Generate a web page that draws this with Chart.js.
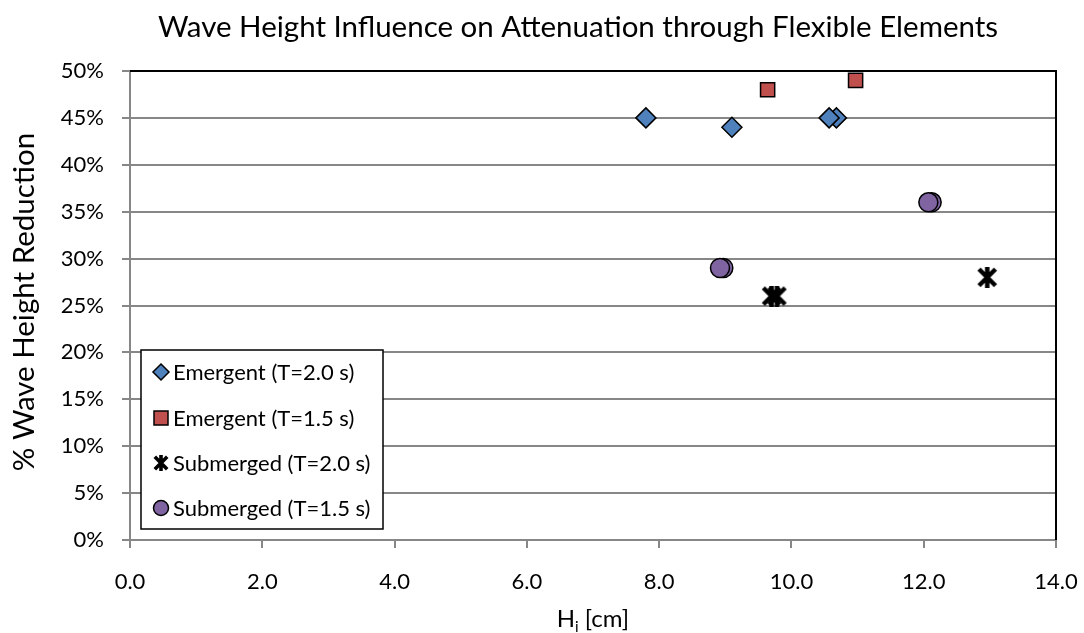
<!DOCTYPE html>
<html lang="en">
<head>
<meta charset="UTF-8">
<title>Wave Height Influence on Attenuation</title>
<script src="https://cdn.jsdelivr.net/npm/chart.js"></script>
<style>
  body { margin: 0; background: #fff; }
  #wrap { width: 1084px; height: 633px; }
</style>
</head>
<body>
<div id="wrap"><canvas id="attenuationChart" width="1084" height="633"></canvas></div>
<script>
// incident wave height (cm) and % wave height reduction per test group
const emergent20H = [7.8, 9.1, 10.68, 10.57];
const emergent20R = [45, 44, 45, 45];
const emergent15H = [9.64, 10.97];
const emergent15R = [48, 49];
const submerged20H = [9.7, 9.78, 12.96];
const submerged20R = [26, 26, 28];
const submerged15H = [8.97, 8.92, 12.12, 12.07];
const submerged15R = [29, 29, 36, 36];

const seriesNames = ['Emergent (T=2.0 s)', 'Emergent (T=1.5 s)', 'Submerged (T=2.0 s)', 'Submerged (T=1.5 s)'];
const xTicks = [0, 2, 4, 6, 8, 10, 12, 14];
const yTicks = [0, 5, 10, 15, 20, 25, 30, 35, 40, 45, 50];

const FONT = 'Lato';
const BLUE = '#4F81BD', RED = '#C0504D', PURPLE = '#8064A2', GRID = '#878787';

function toPoints(xs, ys) {
    return xs.map((x, i) => ({ x: x, y: ys[i] }));
}

// Excel-style star marker: an X with a vertical stroke through it
function makeStar(size, lw) {
    const c = document.createElement('canvas');
    c.width = c.height = size;
    const g = c.getContext('2d');
    g.strokeStyle = '#000';
    g.lineWidth = lw;
    const m = lw / 2;
    g.beginPath();
    g.moveTo(m, m); g.lineTo(size - m, size - m);
    g.moveTo(size - m, m); g.lineTo(m, size - m);
    g.moveTo(size / 2, 0); g.lineTo(size / 2, size);
    g.stroke();
    return c;
}

const starBig = makeStar(21, 4.5);
const starSmall = makeStar(16, 3.6);

function drawMarker(ctx, kind, x, y) {
    ctx.save();
    ctx.lineWidth = 1.5;
    ctx.strokeStyle = '#000';
    ctx.beginPath();
    if (kind === 0) {
        const r = 8;
        ctx.moveTo(x, y - r); ctx.lineTo(x + r, y); ctx.lineTo(x, y + r); ctx.lineTo(x - r, y); ctx.closePath();
        ctx.fillStyle = BLUE;
    } else if (kind === 1) {
        ctx.rect(x - 7, y - 7, 14, 14);
        ctx.fillStyle = RED;
    } else if (kind === 3) {
        ctx.arc(x, y, 7.5, 0, Math.PI * 2);
        ctx.fillStyle = PURPLE;
    } else {
        ctx.drawImage(starSmall, x - 8, y - 8);
        ctx.restore();
        return;
    }
    ctx.fill();
    ctx.stroke();
    ctx.restore();
}

const decorations = {
    id: 'decorations',
    beforeDatasetsDraw(chart) {
        const { ctx, chartArea: a } = chart;
        // plot area frame on top and right
        ctx.save();
        ctx.strokeStyle = '#000';
        ctx.lineWidth = 2;
        ctx.beginPath();
        ctx.moveTo(a.left, a.top);
        ctx.lineTo(a.right, a.top);
        ctx.lineTo(a.right, a.bottom);
        ctx.stroke();
        ctx.restore();
    },
    afterDraw(chart) {
        const { ctx, chartArea: a } = chart;
        ctx.save();
        ctx.fillStyle = '#000';

        // chart title
        ctx.font = '29.5px ' + FONT;
        ctx.textAlign = 'center';
        ctx.textBaseline = 'alphabetic';
        ctx.fillText('Wave Height Influence on Attenuation through Flexible Elements', 578, 37);

        // y axis title
        ctx.save();
        ctx.translate(24, 302);
        ctx.rotate(-Math.PI / 2);
        ctx.textBaseline = 'middle';
        ctx.fillText('% Wave Height Reduction', 0, 0);
        ctx.restore();

        // x axis title with subscript
        const mid = (a.left + a.right) / 2;
        ctx.textAlign = 'left';
        ctx.font = '24px ' + FONT;
        const wH = ctx.measureText('H').width;
        const wRest = ctx.measureText(' [cm]').width;
        ctx.font = '15px ' + FONT;
        const wi = ctx.measureText('i').width;
        const start = mid - (wH + wi + wRest) / 2;
        ctx.font = '24px ' + FONT;
        ctx.fillText('H', start, 627);
        ctx.fillText(' [cm]', start + wH + wi, 627);
        ctx.font = '15px ' + FONT;
        ctx.fillText('i', start + wH, 632);

        // legend box
        ctx.fillStyle = '#fff';
        ctx.fillRect(141, 350, 242, 179);
        ctx.strokeStyle = '#000';
        ctx.lineWidth = 1.5;
        ctx.strokeRect(141, 350, 242, 179);
        const rows = [372, 418, 463, 508];
        ctx.font = '22px ' + FONT;
        ctx.textBaseline = 'middle';
        seriesNames.forEach((name, i) => {
            drawMarker(ctx, i, 161, rows[i]);
            ctx.fillStyle = '#000';
            ctx.fillText(name, 173, rows[i] + 1);
        });
        ctx.restore();
    }
};

const chart = new Chart(document.getElementById('attenuationChart'), {
    type: 'scatter',
    data: {
        datasets: [
            {
                label: seriesNames[0],
                data: toPoints(emergent20H, emergent20R),
                pointStyle: 'rectRot',
                pointRadius: 10,
                backgroundColor: BLUE,
                borderColor: '#000',
                borderWidth: 1.5
            },
            {
                label: seriesNames[1],
                data: toPoints(emergent15H, emergent15R),
                pointStyle: 'rect',
                pointRadius: 10,
                backgroundColor: RED,
                borderColor: '#000',
                borderWidth: 1.5
            },
            {
                label: seriesNames[2],
                data: toPoints(submerged20H, submerged20R),
                pointStyle: starBig,
                pointRadius: 11,
                backgroundColor: '#000',
                borderColor: '#000'
            },
            {
                label: seriesNames[3],
                data: toPoints(submerged15H, submerged15R),
                pointStyle: 'circle',
                pointRadius: 9.5,
                backgroundColor: PURPLE,
                borderColor: '#000',
                borderWidth: 1.5
            }
        ]
    },
    options: {
        responsive: false,
        animation: false,
        events: [],
        layout: { padding: { top: 71, right: 28, left: 0, bottom: 0 } },
        plugins: {
            legend: { display: false },
            title: { display: false },
            tooltip: { enabled: false }
        },
        scales: {
            x: {
                type: 'linear',
                min: 0,
                max: 14,
                afterBuildTicks: scale => { scale.ticks = xTicks.map(v => ({ value: v })); },
                afterFit: scale => {
                    scale.height = 93;
                    scale.paddingLeft = 0;
                    scale.paddingRight = 0;
                },
                ticks: {
                    color: '#000',
                    font: { family: FONT, size: 22 },
                    padding: 21,
                    maxRotation: 0,
                    callback: v => v.toFixed(1)
                },
                grid: {
                    drawOnChartArea: false,
                    drawTicks: true,
                    tickLength: 8,
                    color: GRID,
                    lineWidth: 2
                },
                border: { color: GRID, width: 2 }
            },
            y: {
                min: 0,
                max: 50,
                afterBuildTicks: scale => { scale.ticks = yTicks.map(v => ({ value: v })); },
                afterFit: scale => {
                    scale.width = 130;
                    scale.paddingTop = 0;
                    scale.paddingBottom = 0;
                },
                ticks: {
                    color: '#000',
                    font: { family: FONT, size: 22 },
                    padding: 18,
                    callback: v => v + '%'
                },
                grid: {
                    color: GRID,
                    lineWidth: 2,
                    tickLength: 8
                },
                border: { color: GRID, width: 2 }
            }
        }
    },
    plugins: [decorations]
});
</script>
</body>
</html>
